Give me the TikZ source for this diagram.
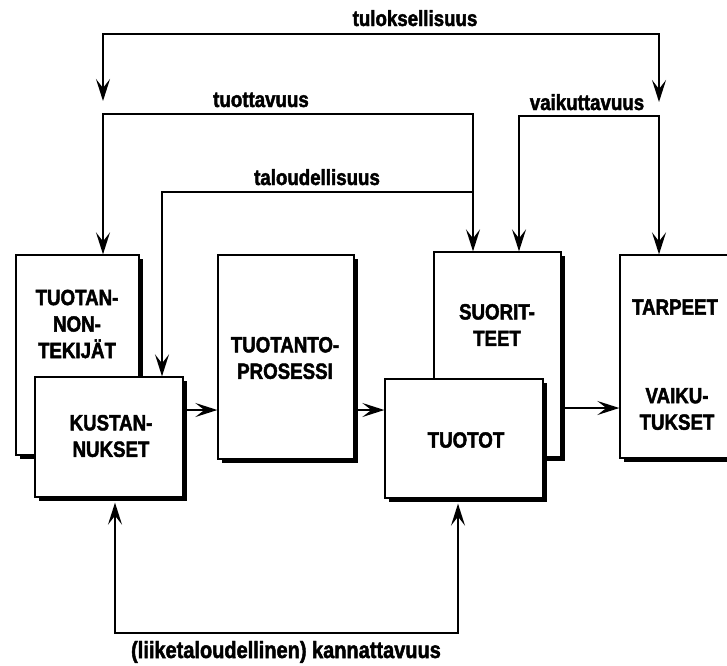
\documentclass[tikz,border=0pt]{standalone}
\usepackage{fontspec}
\newfontfamily\condsans[FakeStretch=0.85, BoldFeatures={FakeBold=2}]{Liberation Sans}
\usetikzlibrary{arrows.meta,shadows}

\tikzset{
  x=1pt, y=-1pt,
  box/.style={draw=black, line width=1.3pt, fill=white, inner sep=0pt,
    drop shadow={shadow xshift=3.5pt, shadow yshift=-3.5pt, fill=black, opacity=1}},
  boxtext/.style={font=\condsans\bfseries\fontsize{22}{26.5}\selectfont, align=center, inner sep=0pt},
  lbl/.style={font=\condsans\bfseries\fontsize{22}{26}\selectfont, inner sep=0pt, anchor=base},
  conn/.style={line width=1.9pt},
  tip/.tip={Stealth[length=22pt,width=14pt,inset=9pt]},
  arr/.style={conn, -tip},
  both/.style={conn, tip-tip},
}

\begin{document}
\begin{tikzpicture}
\useasboundingbox (0,0) rectangle (727,665);

% boxes (back ones first, so the front ones overlap them)
\node[box, minimum width=123pt, minimum height=200pt] (tek)  at (77.5,355) {};
\node[box, minimum width=148pt, minimum height=120pt] (kust) at (109,437) {};
\node[box, minimum width=136pt, minimum height=204pt] (proc) at (286,357) {};
\node[box, minimum width=127pt, minimum height=205pt] (suor) at (497.5,354.5) {};
\node[box, minimum width=158pt, minimum height=119pt] (tuot) at (464,438.5) {};
\node[box, minimum width=112pt, minimum height=203pt] (tarp) at (676,356.5) {};

% box texts
\node[boxtext] (tekT)  at (77,324)  {TUOTAN-\\NON-\\TEKIJÄT};
\node[boxtext] (kustT) at (111,436) {KUSTAN-\\NUKSET};
\node[boxtext] (procT) at (285,358) {TUOTANTO-\\PROSESSI};
\node[boxtext] (suorT) at (497,325) {SUORIT-\\TEET};
\node[boxtext] (tuotT) at (466,440) {TUOTOT};
\node[boxtext] (tarpT) at (675,307) {TARPEET};
\node[boxtext] (vaikT) at (677,409) {VAIKU-\\TUKSET};

% flow between boxes
\coordinate (flowA) at (0,410);
\coordinate (flowB) at (0,408);
\draw[arr] (kust.east |- flowA) -- (proc.west |- flowA);
\draw[arr] (proc.east |- flowA) -- (tuot.west |- flowA);
\draw[arr] (suor.east |- flowB) -- (tarp.west |- flowB);

% tuloksellisuus
\coordinate (t1) at (103,34);
\coordinate (t2) at (659,34);
\coordinate (t1e) at (103,101);
\coordinate (t2e) at (659,102);
\draw[both] (t1e) -- (t1) -- (t2) -- (t2e);
\node[lbl] (tulos) at (415,26) {tuloksellisuus};

% tuottavuus
\coordinate (q1) at (103,114);
\coordinate (q2) at (473,114);
\draw[both] (tek.north -| q1) -- (q1) -- (q2) -- (suor.north -| q2);
\node[lbl] (tuott) at (261,107) {tuottavuus};

% taloudellisuus
\coordinate (r1) at (162,192);
\coordinate (r2) at (473,192);
\draw[arr] (r2) -- (r1) -- (kust.north -| r1);
\node[lbl] (talo) at (317,185) {taloudellisuus};

% vaikuttavuus
\coordinate (v1) at (519,116);
\coordinate (v2) at (659,116);
\draw[both] (suor.north -| v1) -- (v1) -- (v2) -- (tarp.north -| v2);
\node[lbl] (vaik) at (587,110) {vaikuttavuus};

% kannattavuus
\coordinate (k1) at (115,633);
\coordinate (k2) at (458,633);
\draw[both, shorten <=5pt, shorten >=5pt] (kust.south -| k1) -- (k1) -- (k2) -- (tuot.south -| k2);
\node[lbl, font=\condsans\bfseries\fontsize{23.5}{26}\selectfont] (kann) at (286,658) {(liiketaloudellinen) kannattavuus};
\end{tikzpicture}
\end{document}
